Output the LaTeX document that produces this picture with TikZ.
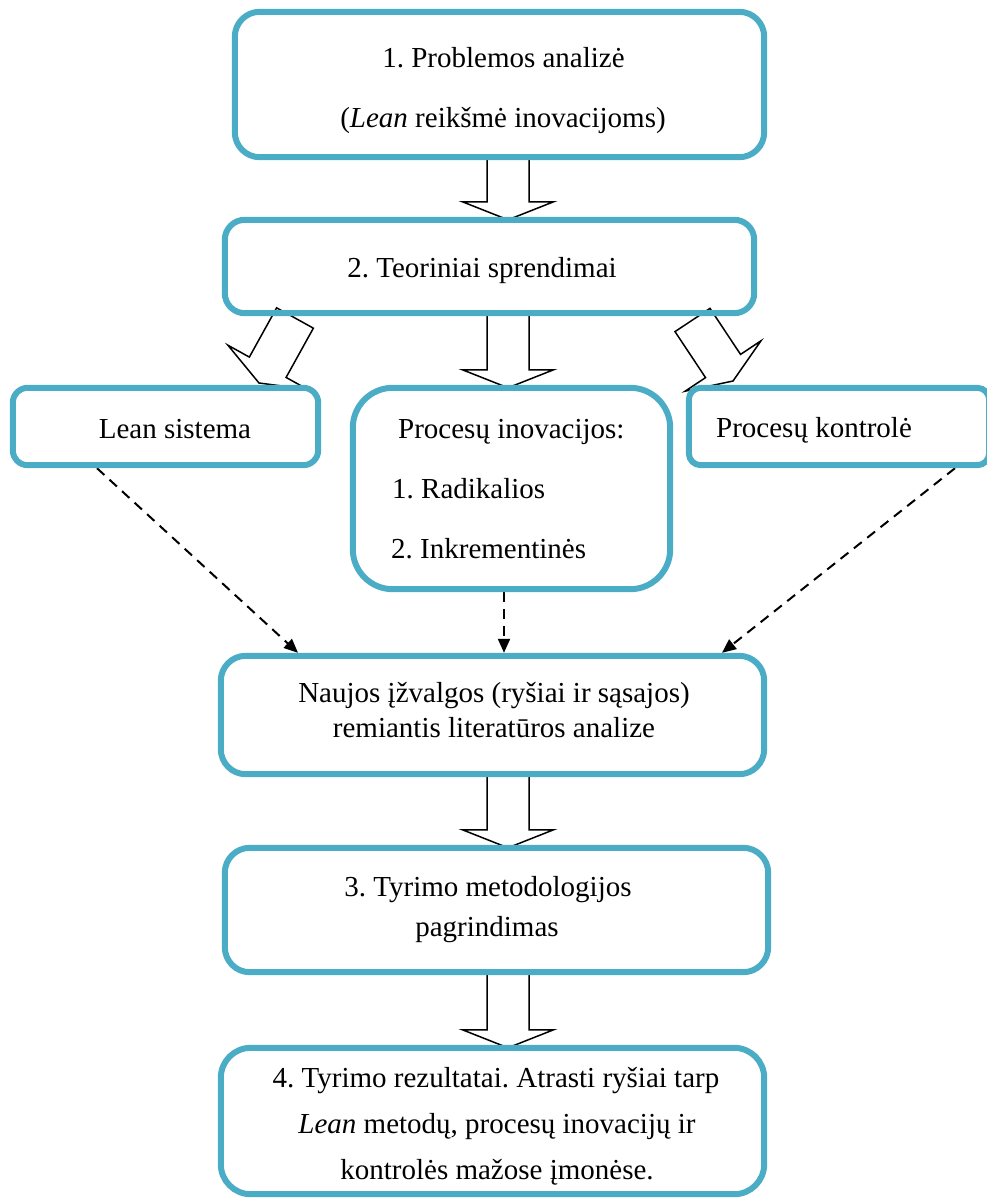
\documentclass[tikz,border=0pt]{standalone}
\usepackage{fontspec}
\setmainfont{Liberation Serif}
\frenchspacing
\usetikzlibrary{calc,arrows.meta}
\definecolor{frame}{HTML}{4BACC6}

% hollow block arrow from #1 (tail) to #2 (tip)
\newcommand\blockarrow[2]{%
  \coordinate (ba-s) at (#1);
  \coordinate (ba-e) at (#2);
  \coordinate (ba-h) at ($(ba-e)!18pt!(ba-s)$);
  \draw[hollow] ($(ba-s)!21pt!90:(ba-e)$) -- ($(ba-h)!21pt!90:(ba-e)$)
    -- ($(ba-h)!45.5pt!90:(ba-e)$) -- (ba-e)
    -- ($(ba-h)!45.5pt!-90:(ba-e)$) -- ($(ba-h)!21pt!-90:(ba-e)$)
    -- ($(ba-s)!21pt!-90:(ba-e)$) -- cycle;
}

\tikzset{
  box/.style={draw=frame, line width=6pt, inner sep=0pt, outer sep=0pt},
  txt/.style={inner sep=0pt, anchor=base, font=\fontsize{29}{35}\selectfont},
  txtl/.style={txt, anchor=base west},
  hollow/.style={draw=black, fill=white, line width=1.5pt, line join=miter},
  dashlink/.style={line width=2pt, dash pattern=on 10pt off 7pt,
    -{Triangle[length=14pt,width=12pt]}},
}

\begin{document}
\begin{tikzpicture}[x=1pt,y=-1pt]
\useasboundingbox (0,0) rectangle (987,1200);

% frames (geometry only, drawn later on top of the arrows)
\path
  (499.5,84.5) node[minimum width=529pt, minimum height=145pt] (b1) {}
  (489.5,266.5) node[minimum width=529pt, minimum height=93pt] (b2) {}
  (165.5,426.5) node[minimum width=305pt, minimum height=77pt] (lean) {}
  (511.5,488.5) node[minimum width=317pt, minimum height=201pt] (inov) {}
  (839,426.5) node[minimum width=300pt, minimum height=77pt] (ctrl) {}
  (492.5,715) node[minimum width=543pt, minimum height=118pt] (naujos) {}
  (496.5,910) node[minimum width=543pt, minimum height=124pt] (b3) {}
  (492.5,1121) node[minimum width=543pt, minimum height=146pt] (b4) {};

\coordinate (axis) at (508,0);

% hollow arrows between the stages
\blockarrow{b1.south -| axis}{b2.north -| axis}
\blockarrow{b2.south -| axis}{inov.north -| axis}
\blockarrow{naujos.south -| axis}{b3.north -| axis}
\blockarrow{b3.south -| axis}{b4.north -| axis}
\coordinate (l-tail) at (295,318);
\coordinate (l-tip) at (259,383);
\coordinate (r-tail) at (692.5,320);
\coordinate (r-tip) at (733,381);
\blockarrow{l-tail}{l-tip}
\blockarrow{r-tail}{r-tip}

% dashed links into the synthesis box
\draw[dashlink] ($(lean.south)+(-68.5,3)$) -- ($(naujos.north)+(-194.5,-3)$);
\draw[dashlink] ($(inov.south)+(-7.5,3)$) -- ($(naujos.north)+(11.5,-3)$);
\draw[dashlink] ($(ctrl.south)+(116,3)$) -- ($(naujos.north)+(229.5,-3)$);

% rounded frames
\draw[box, rounded corners=25pt] (b1.north west) rectangle (b1.south east);
\draw[box, rounded corners=20pt] (b2.north west) rectangle (b2.south east);
\draw[box, rounded corners=15pt] (lean.north west) rectangle (lean.south east);
\draw[box, rounded corners=40pt] (inov.north west) rectangle (inov.south east);
\draw[box, rounded corners=12pt] (ctrl.north west) rectangle (ctrl.south east);
\draw[box, rounded corners=25pt] (naujos.north west) rectangle (naujos.south east);
\draw[box, rounded corners=25pt] (b3.north west) rectangle (b3.south east);
\draw[box, rounded corners=30pt] (b4.north west) rectangle (b4.south east);

% texts
\node[txt] (t1a) at (503.5,67) {1. Problemos analizė};
\node[txt] (t1b) at (503,127) {(\textit{Lean} reikšmė inovacijoms)};
\node[txt] (t2) at (482,277) {2. Teoriniai sprendimai};
\node[txt] (tlean) at (175,438) {Lean sistema};
\node[txtl] (tinov) at (398,438) {Procesų inovacijos:};
\node[txtl] (trad) at (392,498) {1. Radikalios};
\node[txtl] (tinc) at (391,558) {2. Inkrementinės};
\node[txtl] (tctrl) at (716,437) {Procesų kontrolė};
\node[txt] (tn1) at (494,702) {Naujos įžvalgos (ryšiai ir sąsajos)};
\node[txt] (tn2) at (494,737) {remiantis literatūros analize};
\node[txt] (t3a) at (488,896) {3. Tyrimo metodologijos};
\node[txt] (t3b) at (487,936) {pagrindimas};
\node[txt] (t4a) at (496,1087) {4. Tyrimo rezultatai. Atrasti ryšiai tarp};
\node[txt] (t4b) at (497,1133) {\textit{Lean} metodų, procesų inovacijų ir};
\node[txt] (t4c) at (497,1179) {kontrolės mažose įmonėse.};
\end{tikzpicture}
\end{document}
